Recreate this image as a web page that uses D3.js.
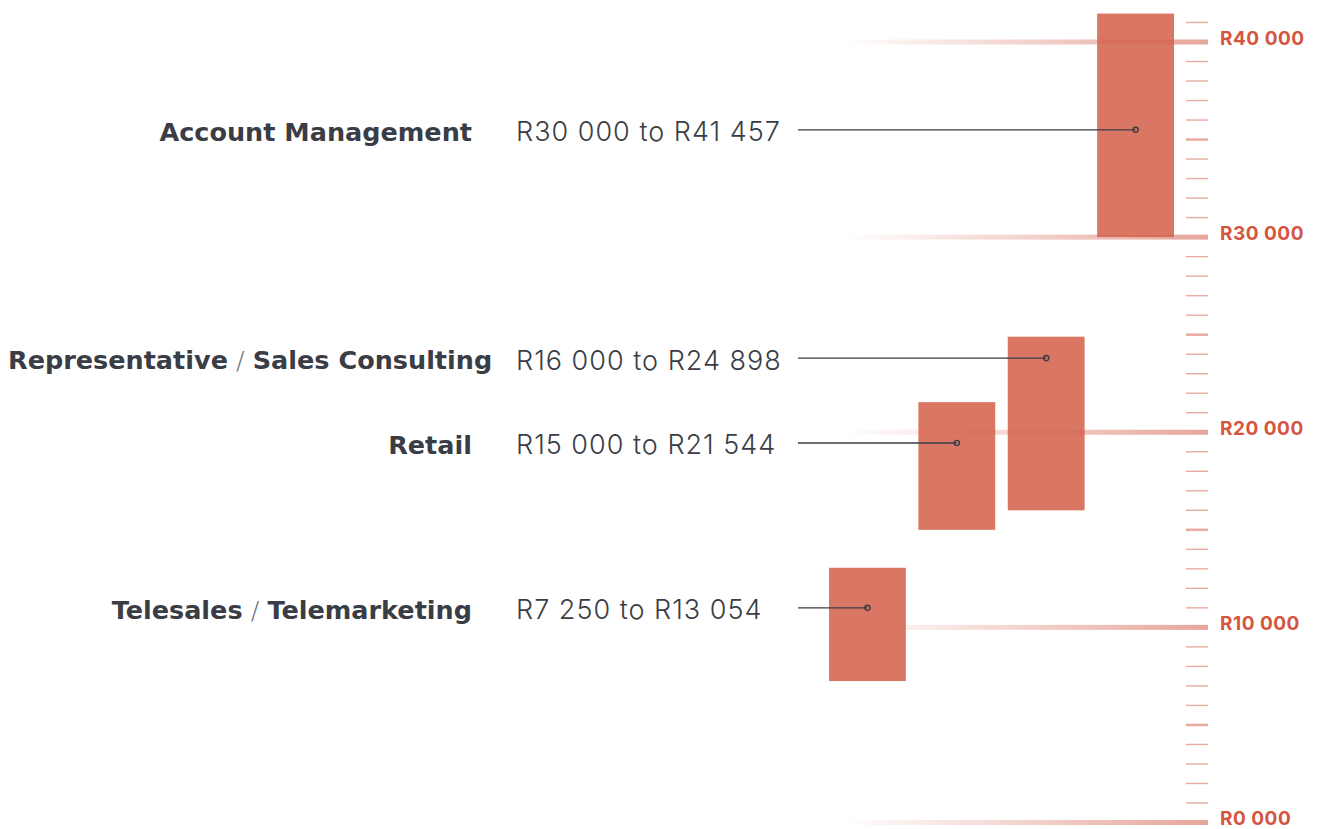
<!DOCTYPE html>
<html>
<head>
<meta charset="utf-8">
<script src="https://cdn.jsdelivr.net/npm/d3@7"></script>
<style>
  body { margin: 0; background: #fff; }
  svg { display: block; }
</style>
</head>
<body>
<div id="chart"></div>
<script>
// data, top to bottom as the labels read
var categories = ["Account Management", "Representative / Sales Consulting", "Retail", "Telesales / Telemarketing"];
var salaryMin = [30000, 16000, 15000, 7250];
var salaryMax = [41457, 24898, 21544, 13054];
var labelAt = [35500, 23800, 19450, 11000];
var rangeLabels = ["R30 000 to R41 457", "R16 000 to R24 898", "R15 000 to R21 544", "R7 250 to R13 054"];
var majorTicks = [0, 10000, 20000, 30000, 40000];
var majorLabels = ["R0 000", "R10 000", "R20 000", "R30 000", "R40 000"];

var width = 1317, height = 829;

var svg = d3.select("#chart").append("svg")
  .attr("width", width)
  .attr("height", height);

var y = d3.scaleLinear().domain([0, 40000]).range([822.5, 42]);

// bars run left to right from the lowest band to the highest
var x = d3.scaleBand()
  .domain(categories.slice().reverse())
  .range([829, 1174])
  .paddingInner(0.14);

var rows = categories.map(function(c, i) {
  return { name: c, lo: salaryMin[i], hi: salaryMax[i], at: labelAt[i], label: rangeLabels[i] };
});

var defs = svg.append("defs");
var grad = defs.append("linearGradient").attr("id", "fade");
grad.append("stop").attr("offset", "0%").attr("stop-color", "#d97664").attr("stop-opacity", 0);
grad.append("stop").attr("offset", "100%").attr("stop-color", "#d97664").attr("stop-opacity", 0.65);

// minor ticks every R1 000
var minor = d3.range(0, 41001, 1000).filter(function(v) { return v % 10000 !== 0; });
svg.append("g").selectAll("line")
  .data(minor)
  .enter().append("line")
  .attr("x1", 1186).attr("x2", 1208)
  .attr("y1", function(d) { return y(d); })
  .attr("y2", function(d) { return y(d); })
  .style("stroke", "#e8ab9f")
  .style("stroke-width", function(d) { return d % 5000 === 0 ? 2.5 : 1.4; });

// faded major grid lines
svg.append("g").selectAll("rect")
  .data(majorTicks)
  .enter().append("rect")
  .attr("x", 843).attr("width", 1208 - 843)
  .attr("y", function(d) { return y(d) - 2.5; })
  .attr("height", 5)
  .style("fill", "url(#fade)");

svg.append("g").selectAll("text")
  .data(majorTicks)
  .enter().append("text")
  .attr("x", 1220)
  .attr("y", function(d) { return y(d) - 4; })
  .attr("dy", "0.35em")
  .style("font-family", "Inter, 'Noto Sans', sans-serif")
  .style("font-weight", 700)
  .style("font-size", "19px")
  .style("letter-spacing", "0.5px")
  .style("fill", "#d4563f")
  .text(function(d, i) { return majorLabels[i]; });

// salary range bars
svg.append("g").selectAll("rect")
  .data(rows)
  .enter().append("rect")
  .attr("x", function(d) { return x(d.name); })
  .attr("width", x.bandwidth())
  .attr("y", function(d) { return y(d.hi); })
  .attr("height", function(d) { return y(d.lo) - y(d.hi); })
  .style("fill", "#d4644f")
  .style("fill-opacity", 0.88);

// leader lines
svg.append("g").selectAll("line")
  .data(rows)
  .enter().append("line")
  .attr("x1", 798)
  .attr("x2", function(d) { return x(d.name) + x.bandwidth() / 2; })
  .attr("y1", function(d) { return y(d.at); })
  .attr("y2", function(d) { return y(d.at); })
  .style("stroke", "#3a3d45")
  .style("stroke-width", 1.3);

svg.append("g").selectAll("circle")
  .data(rows)
  .enter().append("circle")
  .attr("cx", function(d) { return x(d.name) + x.bandwidth() / 2; })
  .attr("cy", function(d) { return y(d.at); })
  .attr("r", 2.6)
  .style("fill", "none")
  .style("stroke", "#3a3d45")
  .style("stroke-width", 1.4);

// range labels
svg.append("g").selectAll("text")
  .data(rows)
  .enter().append("text")
  .attr("x", 516)
  .attr("y", function(d) { return y(d.at) + 2; })
  .attr("dy", "0.35em")
  .style("font-family", "Inter, 'Noto Sans', sans-serif")
  .style("font-weight", 300)
  .style("font-size", "27px")
  .style("letter-spacing", "1px")
  .style("fill", "#3a3d45")
  .text(function(d) { return d.label; });

// category labels, slash in a lighter weight
var cat = svg.append("g").selectAll("text")
  .data(rows)
  .enter().append("text")
  .attr("y", function(d) { return y(d.at) + 2; })
  .attr("dy", "0.35em")
  .attr("text-anchor", "end")
  .style("font-family", "'DejaVu Sans', sans-serif")
  .style("font-weight", 700)
  .style("font-size", "25.5px")
  .style("fill", "#3a3d45");

cat.each(function(d) {
  var t = d3.select(this);
  var parts = d.name.split(" / ");
  parts.forEach(function(p, i) {
    if (i > 0) t.append("tspan").style("font-weight", 300).style("fill", "#6a6d75").text(" / ");
    t.append("tspan").text(p);
  });
  var w = this.getComputedTextLength();
  t.attr("x", Math.max(472, 8 + w));
});
</script>
</body>
</html>
